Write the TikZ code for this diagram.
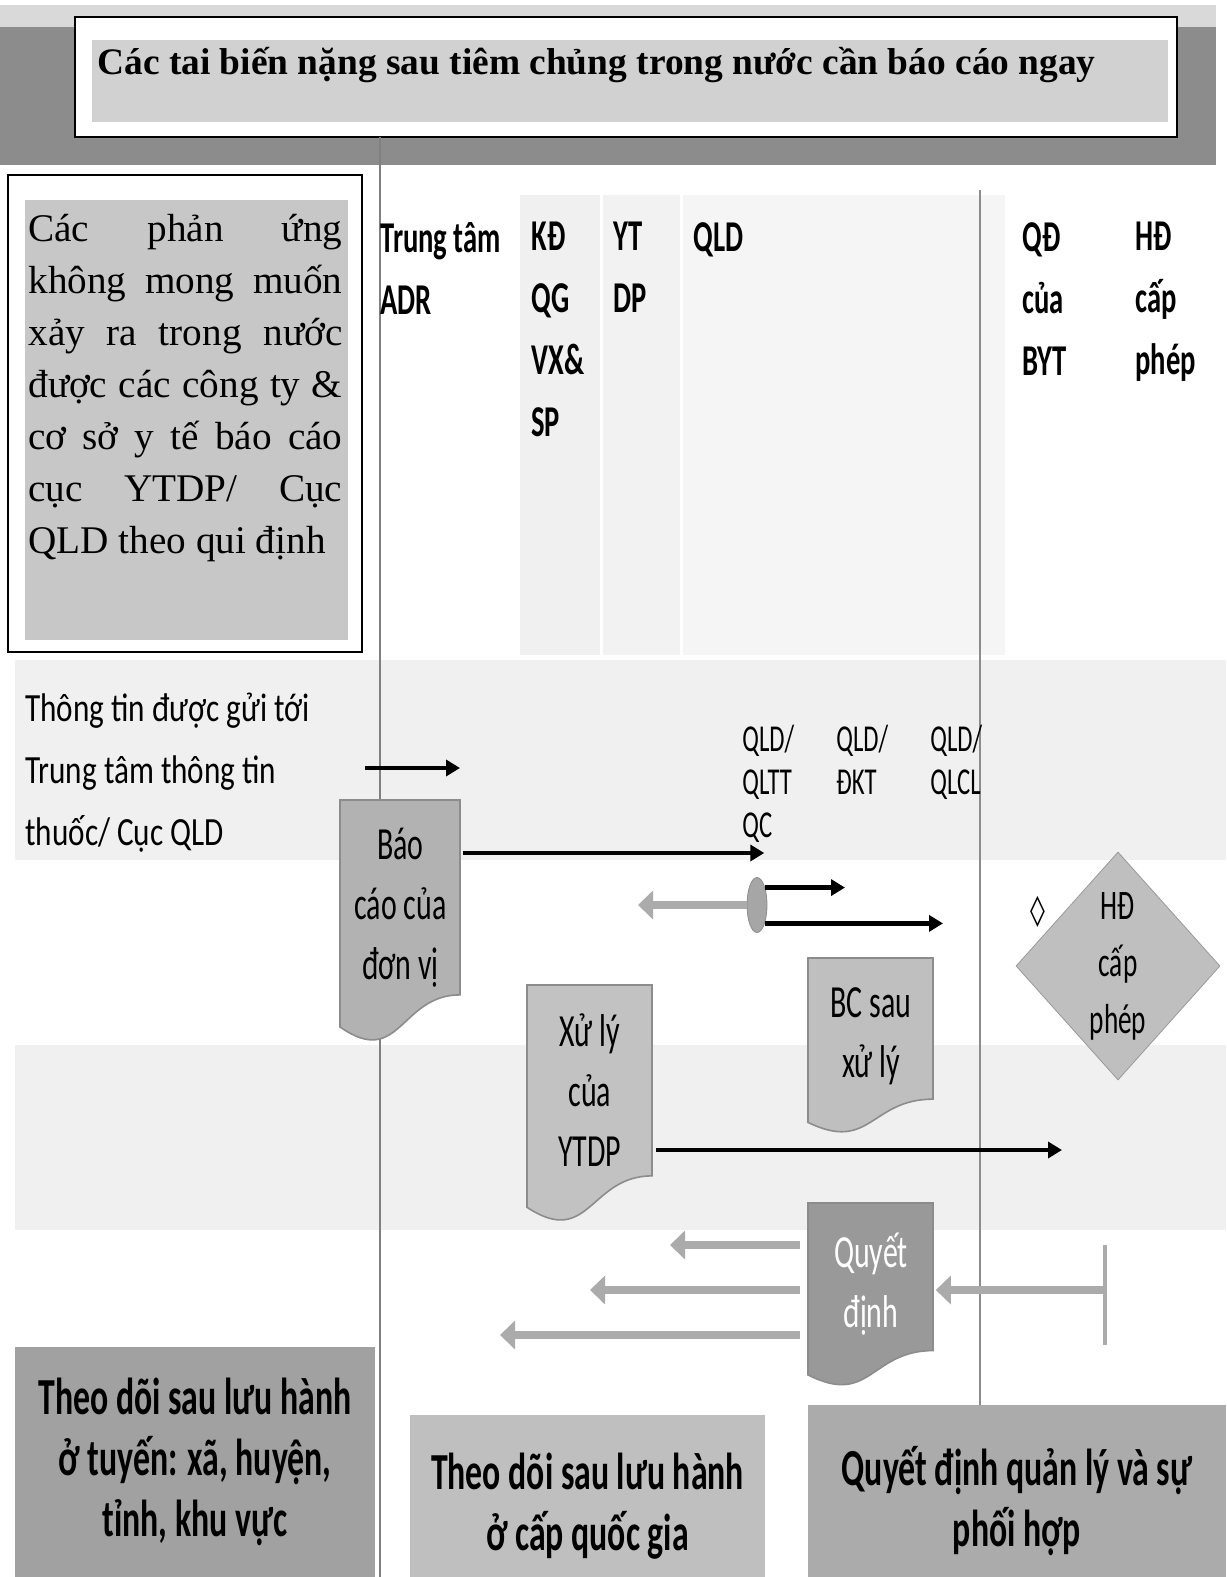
\documentclass[tikz,border=0pt]{standalone}
\usepackage{fontspec}
\setmainfont{Liberation Serif}
\newfontfamily\cnd[FakeStretch=0.65]{Carlito}
\newfontfamily\cali[FakeStretch=0.78]{Carlito}
\newfontfamily\symb{DejaVu Sans}
\usetikzlibrary{arrows.meta,shapes.geometric,calc,positioning}

% document shape: wavy bottom edge
\newcommand\docnode[8][]{%
  \filldraw[fill=#7, draw=black!45, line width=0.8pt]
    ({#3+#5},#4) -- (#3,#4) -- (#3,{#4+0.934*#6})
    .. controls ({#3+0.5*#5},{#4+1.107*#6}) and ({#3+0.5*#5},{#4+0.802*#6}) .. ({#3+#5},{#4+0.802*#6}) -- cycle;
  \node[doctext, minimum width={#5*0.5pt}, minimum height={0.88*#6*0.5pt}, #1] (#2) at (#3,#4) {#8};
}
\newcommand\jl[1]{\makebox[157pt][s]{#1}\\}

\tikzset{
  hdr/.style={anchor=north west, inner sep=0pt, align=left, font=\cnd\bfseries\fontsize{22}{31}\selectfont},
  sub/.style={anchor=north west, inner sep=0pt, align=left, font=\cnd\fontsize{19}{21.5}\selectfont},
  doctext/.style={anchor=north west, inner sep=0pt, align=center, font=\cnd\fontsize{23}{30}\selectfont},
  foot/.style={inner sep=0pt, align=center, font=\cnd\bfseries\fontsize{26}{30.5}\selectfont},
  blk/.style={black, line width=2.2pt, -{Triangle[length=7pt,width=8pt]}},
  gry/.style={black!33, line width=4pt, -{Triangle[length=7.5pt,width=14pt]}},
}

\begin{document}
\begin{tikzpicture}[x=0.5pt,y=-0.5pt]
\useasboundingbox (0,0) rectangle (1226,1577);
\fill[white] (0,0) rectangle (1226,1577);

% lanes
\fill[black!6] (520,195) rectangle (600,655);
\fill[black!5] (603,195) rectangle (680,655);
\fill[black!4] (683,195) rectangle (1005,655);
\fill[black!6] (15,660) rectangle (1226,860);
\fill[black!6] (15,1045) rectangle (1226,1230);

% header
\fill[black!15] (0,5) rectangle (1216,27);
\fill[black!45] (0,27) rectangle (1216,165);
\draw[black, line width=1pt, fill=white] (75,17) rectangle (1177,137);
\fill[black!18] (92,40) rectangle (1168,122);
\node[anchor=west, inner sep=0pt, font=\bfseries\fontsize{18.7}{22}\selectfont] (title) at (97,65)
  {Các tai biến nặng sau tiêm chủng trong nước cần báo cáo ngay};

% divider lines
\draw[black!50, line width=0.6pt] (380,137) -- (380,1577);
\draw[black!45, line width=1.2pt] (980,190) -- (980,1405);

% left text box
\draw[black, line width=1pt, fill=white] (8,175) rectangle (362,652);
\fill[black!22] (25,200) rectangle (348,640);
\node[anchor=north west, inner sep=0pt, align=left, font=\fontsize{19.6}{26}\selectfont] (intro) at (28,214)
  {\jl{Các phản ứng}\jl{không mong muốn}\jl{xảy ra trong nước}\jl{được các công ty \&}\jl{cơ sở y tế báo cáo}\jl{cục YTDP/ Cục}QLD theo qui định};

% column heads
\node[hdr] (adr) at (380,222) {Trung tâm\\ADR};
\node[hdr] (kd) at (531,222) {KĐ\\QG\\VX\&\\SP};
\node[hdr] (ytdp) at (613,222) {YT\\DP};
\node[hdr] (qld) at (693,222) {QLD};
\node[hdr] (qdbyt) at (1022,222) {QĐ\\của\\BYT};
\node[hdr] (hdcap) at (1135,222) {HĐ\\cấp\\phép};

\node[anchor=north west, inner sep=0pt, align=left, font=\cali\fontsize{20}{31}\selectfont] (info) at (25,693)
  {Thông tin được gửi tới\\Trung tâm thông tin\\thuốc/ Cục QLD};

\node[sub] (qltt) at (742,725) {QLD/\\QLTT\\QC};
\node[sub] (dkt) at (836,725) {QLD/\\ĐKT};
\node[sub] (qlcl) at (930,725) {QLD/\\QLCL};

% documents
\docnode{bao}{340}{800}{120}{243}{black!30}{Báo\\cáo của\\đơn vị}
\docnode{xuly}{527}{985}{125}{238}{black!24}{Xử lý\\của\\YTDP}
\docnode{bcsau}{808}{958}{125}{176}{black!25}{BC sau\\xử lý}
\docnode[text=white]{qdinh}{808}{1203}{125}{184}{black!40}{Quyết\\định}

% decision
\node[diamond, draw=black!40, fill=black!25, minimum width=102pt, minimum height=114pt, inner sep=0pt] (hd) at (1118,966) {};
\node[doctext, anchor=center, font=\cnd\fontsize{21}{28.5}\selectfont] (hdtext) at (hd) {HĐ\\cấp\\phép};
\node[inner sep=0pt, font=\symb\fontsize{15}{15}\selectfont] (loz) at (1038,912) {◊};

\node[ellipse, fill=black!35, draw=black!45, minimum width=10pt, minimum height=27.5pt, inner sep=0pt] (split) at (757,905) {};

% free ends
\coordinate (inS) at (365,768);
\coordinate (inE) at (460,768);
\coordinate (toDKT) at (845,0);
\coordinate (toQLCL) at (943,0);
\coordinate (toYT) at (638,0);
\coordinate (toHD) at (1062,0);
\coordinate (barT) at (1105,1245);
\coordinate (barB) at (1105,1345);

% flows
\draw[blk] (inS) -- (inE);
\coordinate (baoOut) at ($(bao.north east)+(2,53)$);
\draw[blk, shorten >=2pt] (baoOut) -- (baoOut -| qltt.south);
\draw[blk] (split.65) -- (split.65 -| toDKT);
\draw[blk] (split.-67) -- (split.-67 -| toQLCL);
\draw[gry] (split.west) -- (split.west -| toYT);
\coordinate (xlOut) at ($(xuly.north east)+(3,165)$);
\draw[blk] (xlOut) -- (xlOut -| toHD);

\foreach \dy/\xe in {42/670,87/590,132/500}{
  \coordinate (qs) at ($(qdinh.north west)+(-8,\dy)$);
  \coordinate (qe) at (\xe,0);
  \draw[gry] (qs) -- (qs -| qe);
}
\draw[black!33, line width=2pt] (barT) -- (barB);
\coordinate (qdIn) at ($(qdinh.north east)+(2,87)$);
\draw[gry] (qdIn -| barT) -- (qdIn);

% footers (run past the page bottom)
\node[foot, fill=black!37, minimum width=180pt, minimum height=115pt] (foot1) at (195,1462)
  {Theo dõi sau lưu hành\\ở tuyến: xã, huyện,\\tỉnh, khu vực};
\node[foot, fill=black!25, minimum width=177.5pt, minimum height=91pt] (foot2) at (587.5,1506)
  {Theo dõi sau lưu hành\\ở cấp quốc gia};
\node[foot, fill=black!33, minimum width=209pt, minimum height=96pt] (foot3) at (1017,1501)
  {Quyết định quản lý và sự\\phối hợp};
\end{tikzpicture}
\end{document}
